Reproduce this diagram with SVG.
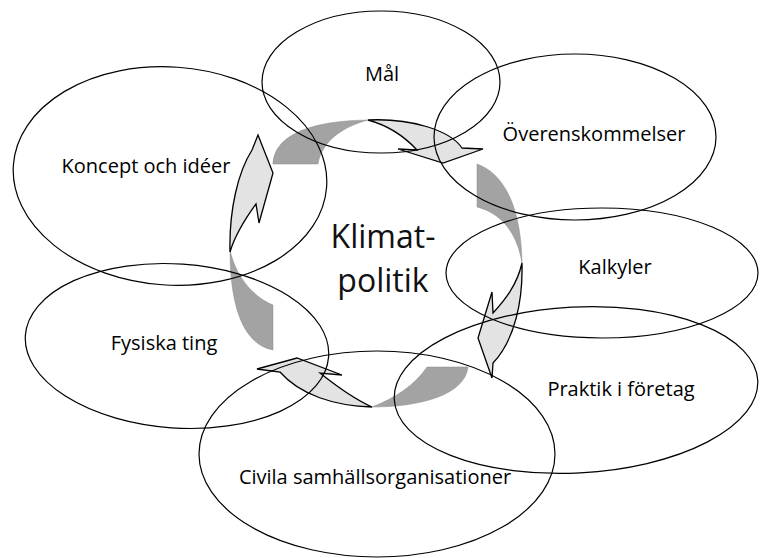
<svg xmlns="http://www.w3.org/2000/svg" width="761" height="558" viewBox="0 0 761 558">
<style>
.ell{fill:none;stroke:#000;stroke-width:1.2}
.lbl{font-family:"Open Sans","Liberation Sans",sans-serif;font-size:20px;fill:#000;text-anchor:middle}
.big{font-family:"Open Sans","Liberation Sans",sans-serif;font-size:32px;fill:#111;text-anchor:middle}
.tail{fill:#a3a3a3;stroke:#8c8c8c;stroke-width:0.5}
.head{fill:#e3e3e3;stroke:#000;stroke-width:1.3;stroke-linejoin:miter}
</style>
<rect width="761" height="558" fill="#fff"/>
<g id="connectors">
  <g id="arrow-top">
    <path class="tail" d="M273,164 C274,140 300,121 368,120 C345,126 322,140 318,164 Z"/>
    <path class="head" d="M368,120 C410,118 450,130 462,148 L483,149 L443,163 L398,149 L417,150 C405,137 390,126 368,120 Z"/>
  </g>
  <g id="arrow-right">
    <path class="tail" d="M477,164 C500,172 521,200 522,263 C518,238 505,214 477,207 Z"/>
    <path class="head" d="M522,263 C523,300 515,340 493,363 L492,378 L478,338 L492,292 L493,313 C505,300 517,285 522,263 Z"/>
  </g>
  <g id="arrow-bottom">
    <path class="tail" d="M468,367 C465,395 420,407 372,407 C395,398 415,385 427,367 Z"/>
    <path class="head" d="M372,407 C335,406 300,395 280,372 L257,369 L297,358 L342,375 L320,373 C335,385 352,398 372,407 Z"/>
  </g>
  <g id="arrow-left">
    <path class="tail" d="M273,350 C245,345 230,310 230,250 C236,278 255,298 273,305 Z"/>
    <path class="head" d="M230,252 C229,210 238,172 252,150 L258,135 L273,173 L259,223 L256,204 C248,215 236,232 230,252 Z"/>
  </g>
</g>
<g id="node-mal">
  <ellipse class="ell" cx="381" cy="82" rx="119" ry="71"/>
  <text class="lbl" x="382" y="81">Mål</text>
</g>
<g id="node-overenskommelser">
  <ellipse class="ell" cx="575" cy="137" rx="141" ry="83"/>
  <text class="lbl" x="594" y="141">Överenskommelser</text>
</g>
<g id="node-koncept">
  <ellipse class="ell" cx="170" cy="176" rx="157" ry="109" transform="rotate(4 170 176)"/>
  <text class="lbl" x="146" y="173">Koncept och idéer</text>
</g>
<g id="node-kalkyler">
  <ellipse class="ell" cx="602" cy="273" rx="156" ry="65"/>
  <text class="lbl" x="615" y="274">Kalkyler</text>
</g>
<g id="node-fysiska">
  <ellipse class="ell" cx="177" cy="346" rx="152" ry="82" transform="rotate(4 177 346)"/>
  <text class="lbl" x="164" y="350">Fysiska ting</text>
</g>
<g id="node-praktik">
  <ellipse class="ell" cx="576" cy="390" rx="182" ry="83" transform="rotate(-3 576 390)"/>
  <text class="lbl" x="621" y="396">Praktik i företag</text>
</g>
<g id="node-civila">
  <ellipse class="ell" cx="377" cy="454" rx="178" ry="103"/>
  <text class="lbl" x="375" y="484">Civila samhällsorganisationer</text>
</g>
<g id="node-center">
  <text class="big" x="383" y="248">Klimat-</text>
  <text class="big" x="383" y="292">politik</text>
</g>
</svg>
